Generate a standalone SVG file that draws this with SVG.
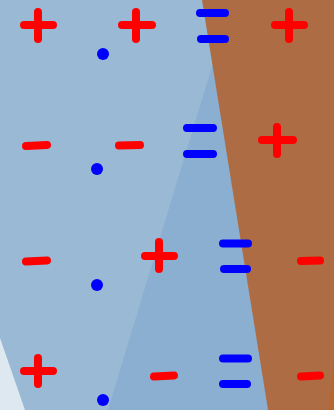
<svg xmlns="http://www.w3.org/2000/svg" width="334" height="410" viewBox="0 0 334 410">
<style>
.r{stroke:#ff0000;stroke-width:8;stroke-linecap:round;fill:none}
.b{stroke:#0000ff;stroke-width:8;stroke-linecap:round;fill:none}
.d{fill:#0000ff}
</style>
<g id="background">
<rect x="0" y="0" width="334" height="410" fill="#99b9d5"/>
<polygon points="213,63 108,410 268,410" fill="#8aafd0"/>
<polygon points="0,338 25,410 0,410" fill="#dde8f1"/>
<polygon points="202,0 334,0 334,410 268,410" fill="#ad6c43"/>
<polygon points="334,355 334,410 329,410" fill="#b8652e"/>
</g>
<g id="row1">
<path class="r" d="M24 25H53M38 12V39"/>
<path class="r" d="M122 25H152M136 12V39"/>
<circle class="d" cx="103" cy="54" r="6"/>
<path class="b" d="M200 13H225M201 39H225"/>
<path class="r" d="M275 25H304M289 12V39"/>
</g>
<g id="row2">
<path class="r" d="M26 146L47 145"/>
<path class="r" d="M119 145.5L140 145"/>
<circle class="d" cx="97" cy="169" r="6"/>
<path class="b" d="M187 128H213M187 154H213"/>
<path class="r" d="M262 140H293M277 127V154"/>
</g>
<g id="row3">
<path class="r" d="M26 261.5L47 260.5"/>
<path class="r" d="M145 256H174M159 242V269"/>
<circle class="d" cx="97" cy="285" r="6"/>
<path class="b" d="M223 243.5H248M224 269H247"/>
<path class="r" d="M301 261L320 260.5"/>
</g>
<g id="row4">
<path class="r" d="M24 371H53M38 358V384"/>
<path class="r" d="M154 376.5L174 375.5"/>
<circle class="d" cx="103" cy="400" r="6"/>
<path class="b" d="M223 358.5H248M223 384H247"/>
<path class="r" d="M301 376.5L320 375.5"/>
</g>
</svg>
